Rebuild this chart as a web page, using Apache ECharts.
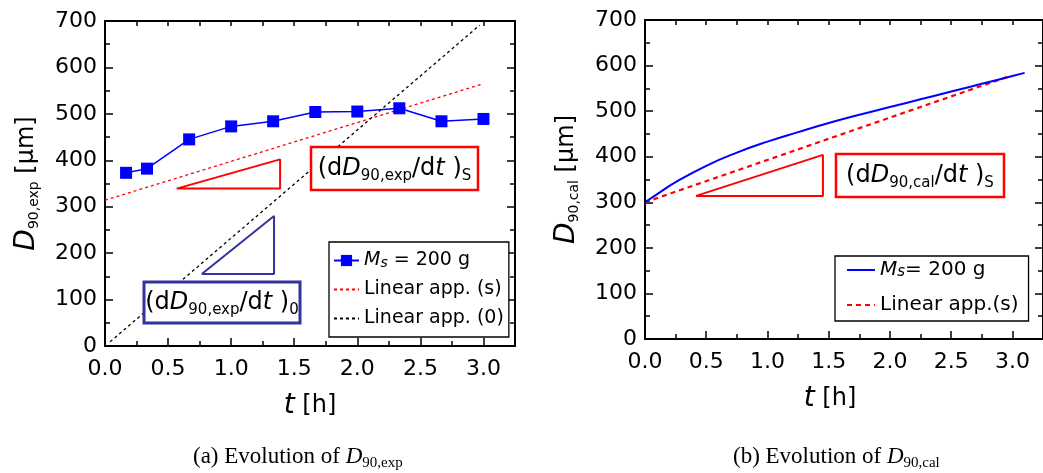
<!DOCTYPE html>
<html>
<head>
<meta charset="utf-8">
<title>D90 evolution</title>
<script src="https://cdn.jsdelivr.net/npm/echarts@6/dist/echarts.min.js"></script>
<style>
    html, body { margin: 0; padding: 0; background: #fff; }
    #chart { width: 1043px; height: 473px; }
</style>
</head>
<body>
<div id="chart"></div>
<script>
// (a) measured D90 [um] vs t [h]
const expTime = [0.167, 0.333, 0.667, 1.0, 1.333, 1.667, 2.0, 2.333, 2.667, 3.0];
const expD90 = [373, 382, 445, 473, 484, 504, 505, 512, 484, 489];
const linSTime = [0, 3.0];
const linSD90 = [314, 565];
const lin0Time = [0.04, 2.97];
const lin0D90 = [9, 691];
const triSTime = [0.568, 1.388, 1.388, 0.568];
const triSD90 = [339, 402, 339, 339];
const tri0Time = [0.767, 1.34, 1.34, 0.767];
const tri0D90 = [155, 280, 155, 155];

// (b) calculated D90
const calTime = [0, 0.1, 0.25, 0.5, 0.75, 1.0, 1.25, 1.5, 1.75, 2.0, 2.25, 2.5, 2.75, 3.0, 3.1];
const calD90 = [300, 318, 344, 380, 409, 433, 454, 474, 492, 509, 526, 543, 560, 577, 584];
const calLinTime = [0, 2.97];
const calLinD90 = [300, 576];
const calTriTime = [0.417, 1.453, 1.453, 0.417];
const calTriD90 = [314, 404, 314, 314];

const FONT = 'DejaVu Sans';
const SERIF = 'Liberation Serif';

const pairs = (xs, ys) => xs.map((x, i) => [x, ys[i]]);

const nameRich = {
    i: { fontFamily: FONT, fontStyle: 'italic', fontSize: 28, color: '#000' },
    s: { fontFamily: FONT, fontSize: 14, verticalAlign: 'bottom', lineHeight: 14, color: '#000' },
    n: { fontFamily: FONT, fontSize: 24, color: '#000' }
};

function xAxes(gridIndex, name, pad) {
    const line = { show: true, onZero: false, lineStyle: { color: '#000', width: 2 } };
    return [
        {
            gridIndex, type: 'value', position: 'bottom', min: 0, max: 3.25, interval: 0.5,
            axisLine: line,
            axisTick: { show: true, inside: true, length: 8, lineStyle: { color: '#000', width: 1.5 } },
            axisLabel: { color: '#000', fontFamily: FONT, fontSize: 22, margin: 12, showMaxLabel: false,
                formatter: v => v.toFixed(1) },
            splitLine: { show: false },
            name, nameLocation: 'middle', nameGap: 46,
            nameTextStyle: { rich: nameRich, padding: pad }
        },
        {
            gridIndex, type: 'value', position: 'bottom', min: 0, max: 3.25, interval: 0.25,
            axisLine: { show: false, onZero: false },
            axisTick: { show: true, inside: true, length: 5, lineStyle: { color: '#000', width: 1.5 } },
            axisLabel: { show: false }, splitLine: { show: false }
        },
        {
            gridIndex, type: 'value', position: 'top', min: 0, max: 3.25, interval: 0.25,
            axisLine: line,
            axisTick: { show: true, inside: true, length: 5, lineStyle: { color: '#000', width: 1.5 } },
            axisLabel: { show: false }, splitLine: { show: false }
        }
    ];
}

function yAxes(gridIndex, name) {
    const base = {
        gridIndex, type: 'value', min: 0, max: 700, interval: 100,
        axisLine: { show: true, onZero: false, lineStyle: { color: '#000', width: 2 } },
        axisTick: { show: true, inside: true, length: 8, lineStyle: { color: '#000', width: 1.5 } },
        minorTick: { show: true, splitNumber: 2, length: 5, lineStyle: { color: '#000', width: 1.5 } },
        splitLine: { show: false }
    };
    return [
        Object.assign({}, base, {
            position: 'left',
            axisLabel: { color: '#000', fontFamily: FONT, fontSize: 22, margin: 8 },
            name, nameLocation: 'middle', nameGap: 64, nameRotate: 90,
            nameTextStyle: { rich: nameRich }
        }),
        Object.assign({}, base, { position: 'right', axisLabel: { show: false } })
    ];
}

const legendRich = size => ({
    i: { fontFamily: FONT, fontStyle: 'italic', fontSize: size, color: '#000' },
    s: { fontFamily: FONT, fontStyle: 'italic', fontSize: size - 5, verticalAlign: 'bottom', lineHeight: size - 5, color: '#000' }
});
const legendText = {
    exp: '{i|M}{s|s} = 200 g',
    linS: 'Linear app. (s)',
    lin0: 'Linear app. (0)',
    cal: '{i|M}{s|s}= 200 g',
    calLin: 'Linear app.(s)'
};
// dashed lines have no marker in the legend
const noMark = { opacity: 0 };

const boxRich = {
    n: { fontFamily: FONT, fontSize: 24, lineHeight: 30, color: '#000' },
    i: { fontFamily: FONT, fontStyle: 'italic', fontSize: 24, lineHeight: 30, color: '#000' },
    s: { fontFamily: FONT, fontSize: 15, lineHeight: 15, verticalAlign: 'bottom', color: '#000' }
};
const capRich = {
    n: { fontFamily: SERIF, fontSize: 23, lineHeight: 27, color: '#000' },
    i: { fontFamily: SERIF, fontStyle: 'italic', fontSize: 23, lineHeight: 27, color: '#000' },
    s: { fontFamily: SERIF, fontSize: 15, lineHeight: 15, verticalAlign: 'bottom', color: '#000' }
};

function boxLabel(x, y, w, h, color, lw, text) {
    return [
        { type: 'rect', z: 100, shape: { x, y, width: w, height: h },
          style: { fill: '#fff', stroke: color, lineWidth: lw } },
        { type: 'text', z: 101, x: x + w / 2, y: y + h / 2,
          style: { text, rich: boxRich, align: 'center', verticalAlign: 'middle' } }
    ];
}

const chart = echarts.init(document.getElementById('chart'));

chart.setOption({
    animation: false,
    backgroundColor: '#fff',
    grid: [
        { left: 105, top: 21, width: 410, height: 325 },
        { left: 645, top: 20, width: 403, height: 319 }
    ],
    xAxis: [
        ...xAxes(0, '{i|t}{n| [h]}', [0, 0, 0, 0]),
        ...xAxes(1, '{i|t}{n| [h]}', [0, 28, 0, 0])
    ],
    yAxis: [
        ...yAxes(0, '{i|D}{s|90,exp}{n| [μm]}'),
        ...yAxes(1, '{i|D}{s|90,cal}{n| [μm]}')
    ],
    legend: [
        {
            data: ['exp', { name: 'linS', itemStyle: noMark }, { name: 'lin0', itemStyle: noMark }],
            orient: 'vertical', left: 329, top: 242,
            padding: [9, 5, 9, 4], itemGap: 10, itemWidth: 25, itemHeight: 14,
            borderColor: '#000', borderWidth: 1.3, backgroundColor: '#fff', selectedMode: false,
            formatter: n => legendText[n],
            textStyle: { fontFamily: FONT, fontSize: 19, color: '#000', rich: legendRich(19) }
        },
        {
            data: [{ name: 'cal', itemStyle: noMark }, { name: 'calLin', itemStyle: noMark }],
            orient: 'vertical', left: 835, top: 256,
            padding: [4, 10, 6, 11], itemGap: 15, itemWidth: 28, itemHeight: 14,
            borderColor: '#000', borderWidth: 1.3, backgroundColor: '#fff', selectedMode: false,
            formatter: n => legendText[n],
            textStyle: { fontFamily: FONT, fontSize: 20, color: '#000', rich: legendRich(20) }
        }
    ],
    series: [
        { name: 'linS', type: 'line', xAxisIndex: 0, yAxisIndex: 0, data: pairs(linSTime, linSD90),
          symbol: 'none', lineStyle: { color: '#ff0000', width: 1.3, type: [3, 3] }, itemStyle: { color: '#ff0000' } },
        { name: 'lin0', type: 'line', xAxisIndex: 0, yAxisIndex: 0, data: pairs(lin0Time, lin0D90),
          symbol: 'none', lineStyle: { color: '#000', width: 1.3, type: [3, 3] }, itemStyle: { color: '#000' } },
        { name: 'exp', type: 'line', xAxisIndex: 0, yAxisIndex: 0, data: pairs(expTime, expD90),
          symbol: 'rect', symbolSize: 12, itemStyle: { color: '#0000ff' },
          lineStyle: { color: '#0000ff', width: 1.5 }, z: 5 },
        { name: 'triS', type: 'line', xAxisIndex: 0, yAxisIndex: 0, data: pairs(triSTime, triSD90),
          symbol: 'none', silent: true, lineStyle: { color: '#ff0000', width: 2 } },
        { name: 'tri0', type: 'line', xAxisIndex: 0, yAxisIndex: 0, data: pairs(tri0Time, tri0D90),
          symbol: 'none', silent: true, lineStyle: { color: '#333399', width: 2 } },

        { name: 'calLin', type: 'line', xAxisIndex: 3, yAxisIndex: 2, data: pairs(calLinTime, calLinD90),
          symbol: 'none', lineStyle: { color: '#ff0000', width: 2.2, type: [5, 4] }, itemStyle: { color: '#ff0000' } },
        { name: 'cal', type: 'line', xAxisIndex: 3, yAxisIndex: 2, data: pairs(calTime, calD90),
          symbol: 'none', smooth: true, lineStyle: { color: '#0000ff', width: 2 }, itemStyle: { color: '#0000ff' } },
        { name: 'calTri', type: 'line', xAxisIndex: 3, yAxisIndex: 2, data: pairs(calTriTime, calTriD90),
          symbol: 'none', silent: true, lineStyle: { color: '#ff0000', width: 2 } }
    ],
    graphic: [
        ...boxLabel(311, 147, 167, 43, '#ff0000', 2.5, '{n|(d}{i|D}{s|90,exp}{n|/d}{i|t}{n| )}{s|S}'),
        ...boxLabel(144, 282, 156, 41, '#333399', 3, '{n|(d}{i|D}{s|90,exp}{n|/d}{i|t}{n| )}{s|0}'),
        ...boxLabel(836, 154, 168, 43, '#ff0000', 2.5, '{n|(d}{i|D}{s|90,cal}{n|/d}{i|t}{n| )}{s|S}'),
        { type: 'text', z: 101, x: 193, y: 457,
          style: { text: '{n|(a) Evolution of }{i|D}{s|90,exp}', rich: capRich, verticalAlign: 'middle' } },
        { type: 'text', z: 101, x: 733, y: 457,
          style: { text: '{n|(b) Evolution of }{i|D}{s|90,cal}', rich: capRich, verticalAlign: 'middle' } }
    ]
});
</script>
</body>
</html>
